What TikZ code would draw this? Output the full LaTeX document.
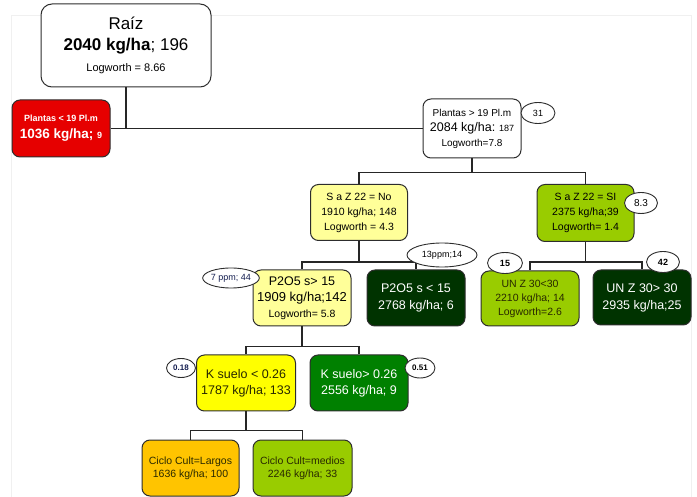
\documentclass[tikz,border=0pt]{standalone}
\usepackage{fontspec}
\setmainfont{Liberation Sans}
\usepackage{xcolor}
\usepackage{tikz}
\usetikzlibrary{shapes.geometric}
\definecolor{NodeRed}   {RGB}{230,  0,  0}
\definecolor{NodeCream} {RGB}{255,255,153}
\definecolor{NodeLime}  {RGB}{153,204,  0}
\definecolor{NodeForest}{RGB}{  0, 51,  0}
\definecolor{NodeGreen} {RGB}{  0,128,  0}
\definecolor{NodeYellow}{RGB}{255,255,  0}
\definecolor{NodeAmber} {RGB}{255,196,  0}
\definecolor{NodeEdge}  {RGB}{ 45, 45, 45}
\definecolor{NodeInk}   {RGB}{ 40, 40,  0}
\definecolor{NodeNavy}  {RGB}{ 20, 30, 80}
\newcommand{\fsz}[2]{\fontsize{#1}{#2}\selectfont}

\begin{document}
\begin{tikzpicture}[x=1pt,y=-1pt,
      box/.style={rectangle,rounded corners=8pt,draw=NodeEdge,line width=1pt,
                  minimum width=97pt,minimum height=56pt,inner sep=1pt,align=center},
      lnk/.style={line width=1.3pt,black!85},
      tag/.style={ellipse,draw=NodeEdge,fill=white,line width=0.9pt,inner sep=0pt,
                  minimum height=21pt,font=\fsz{9}{10}}]
    \useasboundingbox (0,0) rectangle (697,497);
    \draw[gray!12,line width=0.8pt] (11,497) |- (691,15) -- (691,497);
    % tree nodes
    \node[box,fill=white,minimum width=170pt,minimum height=83pt,rounded corners=11pt,
          font=\fsz{17}{21}](R) at (126,45.5)
      {Raíz\\\textbf{2040 kg/ha}; 196\\{\fsz{11}{13}Logworth = 8.66}};
    \node[box,fill=NodeRed,text=white,minimum width=98pt,minimum height=57pt,
          font=\fsz{13.5}{17}\bfseries](PL) at (61,128.5)
      {{\fsz{9}{11}Plantas < 19 Pl.m}\\1036 kg/ha; {\fsz{9}{11}9}};
    \node[box,fill=white,minimum width=98pt,minimum height=59pt,font=\fsz{10}{15}](PH) at (472,128.5)
      {Plantas > 19 Pl.m\\{\fsz{12.5}{15}2084 kg/ha:} {\fsz{9}{11}187}\\Logworth=7.8};
    \node[box,fill=NodeCream,font=\fsz{10.5}{15}](SN) at (359,212.5)
      {S a Z 22 = No\\1910 kg/ha; 148\\Logworth = 4.3};
    \node[box,fill=NodeLime,minimum height=57pt,font=\fsz{10.5}{15}](SS) at (585.5,213)
      {S a Z 22 = SI\\2375 kg/ha;39\\Logworth= 1.4};
    \node[box,fill=NodeCream,minimum width=98pt,font=\fsz{12.5}{16}](PA) at (302,298)
      {P2O5 s> 15\\{\fsz{13}{16}1909 kg/ha;142}\\{\fsz{10.5}{13}Logworth= 5.8}};
    \node[box,fill=NodeForest,text=white,minimum width=98pt,font=\fsz{12.5}{17}](PB) at (416,298)
      {P2O5 s < 15\\2768 kg/ha; 6};
    \node[box,fill=NodeLime,text=NodeInk,minimum width=98pt,minimum height=55pt,
          font=\fsz{10.5}{14}](UA) at (530,298.5)
      {UN Z 30<30\\2210 kg/ha; 14\\Logworth=2.6};
    \node[box,fill=NodeForest,text=white,minimum width=98pt,minimum height=55pt,
          font=\fsz{12.5}{17}](UB) at (642,297.5)
      {UN Z 30> 30\\2935 kg/ha;25};
    \node[box,fill=NodeYellow,text=NodeInk,minimum width=99pt,font=\fsz{12.5}{16}](KA) at (246,383)
      {K suelo < 0.26\\1787 kg/ha; 133};
    \node[box,fill=NodeGreen,text=white,minimum width=98pt,font=\fsz{12.5}{16}](KB) at (359,383)
      {K suelo> 0.26\\2556 kg/ha; 9};
    \node[box,fill=NodeAmber,text=NodeInk,font=\fsz{10.5}{13}](CL) at (190.5,468)
      {Ciclo Cult=Largos\\1636 kg/ha; 100};
    \node[box,fill=NodeLime,text=NodeInk,minimum width=99pt,font=\fsz{10.5}{13}](CM) at (302.5,468)
      {Ciclo Cult=medios\\2246 kg/ha; 33};
    % connectors
    \draw[lnk](R.south)--(R.south |- PL.east);
    \draw[lnk](PL.east)--(PH.west);
    \draw[lnk](PH.south)--++(0,14)-|(SN.north);
    \draw[lnk](PH.south)++(0,14)-|(SS.north);
    \draw[lnk](SN.south)--++(0,21)-|(PA.north);
    \draw[lnk](SN.south)++(0,21)-|(PB.north);
    \draw[lnk](SS.south)--++(0,20)-|(UA.north);
    \draw[lnk](SS.south)++(0,20)-|(UB.north);
    \draw[lnk](PA.south)--++(0,20)-|(KA.north);
    \draw[lnk](PA.south)++(0,20)-|(KB.north);
    \draw[lnk](KA.south)--++(0,19)-|(CL.north);
    \draw[lnk](KA.south)++(0,19)-|(CM.north);
    % split values
    \node[tag,minimum width=34pt](T31) at (538,113){31};
    \node[tag,minimum width=33pt,font=\fsz{10}{12}](T83) at (641,203){8.3};
    \node[tag,minimum width=70pt,minimum height=24pt](T13) at (442,255){13ppm;14};
    \node[tag,minimum width=56pt,minimum height=20pt,text=NodeNavy](T7) at (231,278){7 ppm; 44};
    \node[tag,minimum width=35pt,font=\fsz{9}{10}\bfseries](T15) at (505,263){15};
    \node[tag,minimum width=33pt,font=\fsz{9}{10}\bfseries](T42) at (663,262){42};
    \node[tag,minimum width=29pt,minimum height=19pt,text=NodeNavy,font=\fsz{8}{9}\bfseries](T18) at (181,368){0.18};
    \node[tag,minimum width=30pt,minimum height=20pt,font=\fsz{8}{9}\bfseries](T51) at (420,368){0.51};
  \end{tikzpicture}
\end{document}
